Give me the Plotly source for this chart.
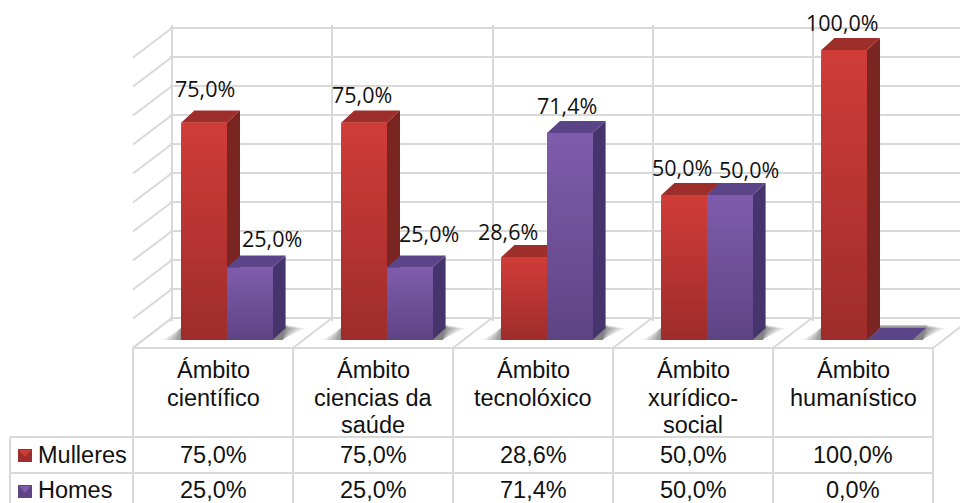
"""Ámbitos por sexo: columnas con aspecto 3D e táboa de datos"""

import plotly.graph_objects as go

categories = ["Ámbito<br>científico", "Ámbito<br>ciencias da<br>saúde", "Ámbito<br>tecnolóxico",
              "Ámbito<br>xurídico-<br>social", "Ámbito<br>humanístico"]
mulleres = [75.0, 75.0, 28.6, 50.0, 100.0]
homes = [25.0, 25.0, 71.4, 50.0, 0.0]
series_names = ["Mulleres", "Homes"]
wall_ticks = list(range(0, 101, 10))

W, H = 960, 503
GRID = "#d9d9d9"
FONT_TABLE = "Liberation Sans"
FONT_LABEL = "Open Sans"

# escala dos eixes en píxeles
X0, PX_CAT = 227, 160
Y0, PX_PCT = 340, 2.9
BAR_W = (1 - 0.43) / 2
DX, DY = 13 / PX_CAT, 12 / PX_PCT
STEPS = 32


def fx(px):
    return px / W


def fy(py):
    return 1 - py / H


def hex_mix(c1, c2, t):
    a = [int(c1[i:i + 2], 16) for i in (1, 3, 5)]
    b = [int(c2[i:i + 2], 16) for i in (1, 3, 5)]
    return "#" + "".join(f"{round(p + (q - p) * t):02x}" for p, q in zip(a, b))


def fmt(v):
    return f"{v:.1f}%".replace(".", ",")


fig = go.Figure()

# parede do fondo: só serve para as liñas de grade
fig.add_trace(go.Scatter(x=[0], y=[0], xaxis="x", yaxis="y", mode="markers",
                         marker=dict(opacity=0), showlegend=False, hoverinfo="skip"))

palette = [
    dict(top="#cf3c38", bottom="#9f2d2b", side="#7b2523", cap="#9e2e2c"),
    dict(top="#7f5cab", bottom="#5f4485", side="#46346c", cap="#5b4487"),
]
shapes = []
values = [mulleres, homes]
n = len(categories)

# sombra no chan, varias capas para que quede difusa
for i in range(n):
    for grow, op in ((18, 0.14), (14, 0.16), (10, 0.18), (6, 0.2), (2, 0.22), (0, 0.24)):
        left = i - BAR_W - grow / PX_CAT
        right = i + BAR_W
        shapes.append(dict(
            type="path", xref="x2", yref="y2", layer="below", line_width=0,
            fillcolor="#555555", opacity=op,
            path=f"M {left} 0 L {right + 10 / PX_CAT} 0 "
                 f"L {right + (14 + grow) / PX_CAT} {(15 - grow / 6) / PX_PCT} "
                 f"L {i - BAR_W} {(15 - grow / 6) / PX_PCT} Z",
        ))

for s, vals in enumerate(values):
    sx, sy, tx, ty = [], [], [], []
    for i, v in enumerate(vals):
        left = i - BAR_W + s * BAR_W
        right = left + BAR_W
        sx += [right, right + DX, right + DX, right, right, None]
        sy += [0, DY, v + DY, v, 0, None]
        tx += [left, left + DX, right + DX, right, left, None]
        ty += [v, v + DY, v + DY, v, v, None]
        # degradado da cara frontal, de maior a menor
        if v > 0:
            for k in range(STEPS):
                shapes.append(dict(
                    type="rect", xref="x2", yref="y2", layer="above", line_width=0,
                    fillcolor=hex_mix(palette[s]["top"], palette[s]["bottom"], k / (STEPS - 1)),
                    x0=left, x1=right, y0=0, y1=v * (1 - k / STEPS),
                ))
    fig.add_trace(go.Scatter(x=sx, y=sy, xaxis="x2", yaxis="y2", mode="lines", fill="toself",
                             fillcolor=palette[s]["side"], line=dict(width=0),
                             showlegend=False, hoverinfo="skip"))
    fig.add_trace(go.Scatter(x=tx, y=ty, xaxis="x2", yaxis="y2", mode="lines", fill="toself",
                             fillcolor=palette[s]["cap"], line=dict(width=0),
                             showlegend=False, hoverinfo="skip"))
    fig.add_trace(go.Bar(x=list(range(n)), y=vals, name=series_names[s], xaxis="x2", yaxis="y2",
                         marker=dict(color=palette[s]["bottom"], line_width=0), showlegend=False))


def line(x0, y0, x1, y1, width=2, color=GRID):
    return dict(type="line", xref="paper", yref="paper", layer="below",
                x0=fx(x0), y0=fy(y0), x1=fx(x1), y1=fy(y1), line=dict(color=color, width=width))


# parede esquerda e chan
for t in wall_ticks:
    y = 318 - t * 2.9
    shapes.append(line(172, y, 133, y + 29.5))
for i in range(6):
    shapes.append(line(172 + 160 * i, 318, 133 + 160 * i, 348))

# táboa de datos
col_x = [133 + 160 * i for i in range(6)]
shapes.append(line(133, 348, 933, 348))
shapes.append(line(10, 437, 933, 437))
shapes.append(line(10, 473, 933, 473))
shapes.append(line(10, 437, 10, 503))
for x in col_x:
    shapes.append(line(x, 348, x, 503))

annotations = []


def text(x, y, s, size=23.5, font=FONT_TABLE, anchor="center"):
    annotations.append(dict(x=fx(x), y=fy(y), xref="paper", yref="paper", text=s, showarrow=False,
                            xanchor=anchor, yanchor="middle",
                            font=dict(family=font, size=size, color="#111111")))


for i, cat in enumerate(categories):
    cx = 213 + 160 * i
    for j, part in enumerate(cat.split("<br>")):
        text(cx, 370 + 27.5 * j, part)
    text(cx, 455, fmt(mulleres[i]))
    text(cx, 490, fmt(homes[i]))
text(36, 455, series_names[0], anchor="left")
text(36, 490, series_names[1], anchor="left")

# etiquetas de datos, colocadas a man coma no orixinal
label_shift = [[(1, 17), (22, 13)], [(-2, 11), (19, 18)], [(-16, 9), (-3, 11)],
               [(-2, 11), (19, 9)], [(-2, 11), None]]
for i in range(n):
    for s, vals in enumerate(values):
        shift = label_shift[i][s]
        if shift is None:
            continue
        left = i - BAR_W + s * BAR_W
        annotations.append(dict(x=left + BAR_W / 2, y=vals[i], xref="x2", yref="y2", text=fmt(vals[i]),
                                showarrow=False, xanchor="center", yanchor="bottom",
                                xshift=shift[0], yshift=shift[1],
                                font=dict(family=FONT_LABEL, size=21.5, color="#111111")))

# chaves da lenda
for s, (ky, pal) in enumerate(zip((449, 485), palette)):
    shapes.append(dict(type="rect", xref="paper", yref="paper", layer="below", line_width=0,
                       fillcolor=pal["bottom"], x0=fx(18), x1=fx(32), y0=fy(ky), y1=fy(ky + 13)))
    shapes.append(dict(type="path", xref="paper", yref="paper", layer="below", line_width=0,
                       fillcolor=pal["top"],
                       path=f"M {fx(19)} {fy(ky + 1)} L {fx(31)} {fy(ky + 1)} L {fx(25)} {fy(ky + 8)} Z"))

# os extremos do eixe quedan algo fóra para que se debuxen as liñas de borde
fig.update_layout(
    width=W, height=H,
    margin=dict(l=0, r=0, t=0, b=0),
    paper_bgcolor="white", plot_bgcolor="rgba(0,0,0,0)",
    barmode="group", bargap=0.43, bargroupgap=0,
    shapes=shapes, annotations=annotations,
    xaxis=dict(domain=[fx(170), 1], range=[-2 / 160.25, (W - 172) / 160.25], dtick=1, tick0=0,
               showgrid=True, gridcolor=GRID, gridwidth=2, showticklabels=False,
               zeroline=False, ticks=""),
    yaxis=dict(domain=[fy(320.9), fy(25.1)], range=[-1, 101], dtick=10, tick0=0,
               showgrid=True, gridcolor=GRID, gridwidth=2, showticklabels=False,
               zeroline=False, ticks=""),
    xaxis2=dict(domain=[fx(147), 1], range=[-0.5, (W - X0) / PX_CAT], anchor="y2", visible=False),
    yaxis2=dict(domain=[fy(Y0 + 4 * PX_PCT), fy(Y0 - 110 * PX_PCT)], range=[-4, 110], anchor="x2", visible=False),
)

# sen a marxe por defecto do body
fig.write_html("out.html", config=dict(displayModeBar=False),
               post_script="document.body.style.margin='0';document.body.style.overflow='hidden';")
